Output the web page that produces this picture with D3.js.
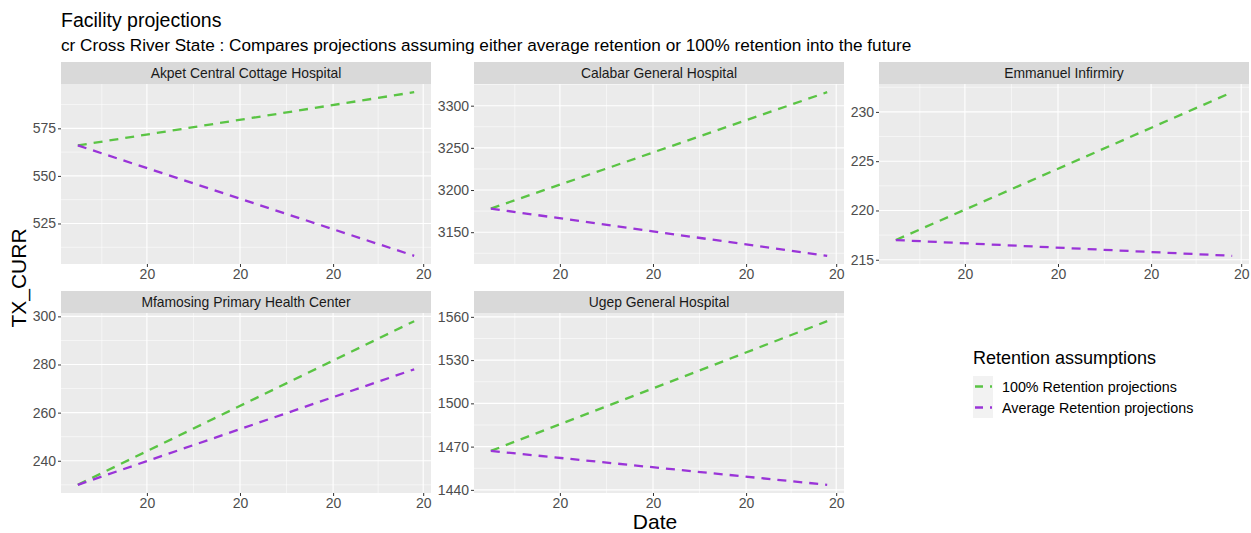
<!DOCTYPE html>
<html>
<head>
<meta charset="utf-8">
<script src="https://cdn.jsdelivr.net/npm/d3@7"></script>
<style>
  body { margin: 0; background: #fff; }
  svg { font-family: "Liberation Sans", Arial, sans-serif; }
</style>
</head>
<body>
<svg id="chart" width="1251" height="533"></svg>
<script>
// facet names (in facet_wrap order)
const facilities = [
  "Akpet Central Cottage Hospital",
  "Calabar General Hospital",
  "Emmanuel Infirmiry",
  "Mfamosing Primary Health Center",
  "Ugep General Hospital"
];

// projection start / end dates
const dates = ["2020-06-08", "2020-09-28"];

// TX_CURR at start and end, one pair per facility
const fullRetention = [[566, 594], [3178, 3316], [217, 232], [230, 298], [1467, 1557]];
const avgRetention = [[566, 508], [3178, 3122], [217, 215.4], [230, 278], [1467, 1443.5]];

// y tick labels per facet
const yTicks = [
  [525, 550, 575],
  [3150, 3200, 3250, 3300],
  [215, 220, 225, 230],
  [240, 260, 280, 300],
  [1440, 1470, 1500, 1530, 1560]
];

// x major breaks (labelled with 2-digit year)
const xTicks = ["2020-07-01", "2020-08-01", "2020-09-01", "2020-10-01"];

const seriesNames = ["100% Retention projections", "Average Retention projections"];
const seriesColors = ["#5ac444", "#9a34d8"];

const parse = d3.timeParse("%Y-%m-%d");
const svg = d3.select("#chart");

// layout
const panelW = 370, plotH = 180, stripH = 22;
const colX = [61, 474, 879];
const rowY = [62, 291];

const allDates = dates.map(parse);
const span = allDates[1] - allDates[0];
const x = d3.scaleTime()
  .domain([new Date(+allDates[0] - span * 0.05), new Date(+allDates[1] + span * 0.05)])
  .range([0, panelW]);
const xMajor = xTicks.map(parse);
const xMinor = [];
const prevMonth = d3.timeMonth.offset(xMajor[0], -1);
[prevMonth, ...xMajor].forEach((d, i, arr) => {
  if (i < arr.length - 1) xMinor.push(new Date((+d + +arr[i + 1]) / 2));
});

facilities.forEach((name, i) => {
  const col = i % 3, row = Math.floor(i / 3);
  const g = svg.append("g")
    .attr("transform", "translate(" + colX[col] + "," + rowY[row] + ")");

  // strip
  g.append("rect").attr("width", panelW).attr("height", stripH).attr("fill", "#d9d9d9");
  g.append("text")
    .attr("x", panelW / 2).attr("y", stripH / 2 + 5)
    .attr("text-anchor", "middle").attr("font-size", 13.9).attr("fill", "#1a1a1a")
    .text(name);

  const p = g.append("g").attr("transform", "translate(0," + stripH + ")");
  p.append("rect").attr("width", panelW).attr("height", plotH).attr("fill", "#ebebeb");

  const vals = fullRetention[i].concat(avgRetention[i]);
  const lo = d3.min(vals), hi = d3.max(vals), pad = (hi - lo) * 0.05;
  const y = d3.scaleLinear().domain([lo - pad, hi + pad]).range([plotH, 0]);

  const ticks = yTicks[i];
  const step = ticks[1] - ticks[0];
  const yMinor = [ticks[0] - step / 2, ...ticks.map(t => t + step / 2)]
    .filter(v => v > y.domain()[0] && v < y.domain()[1]);

  // minor grid
  p.selectAll(".ymin").data(yMinor).enter().append("line")
    .attr("x1", 0).attr("x2", panelW)
    .attr("y1", d => y(d)).attr("y2", d => y(d))
    .attr("stroke", "#fff").attr("stroke-width", 0.55);
  p.selectAll(".xmin").data(xMinor.filter(d => x(d) > 0 && x(d) < panelW)).enter().append("line")
    .attr("y1", 0).attr("y2", plotH)
    .attr("x1", d => x(d)).attr("x2", d => x(d))
    .attr("stroke", "#fff").attr("stroke-width", 0.55);
  // major grid
  p.selectAll(".ymaj").data(ticks).enter().append("line")
    .attr("x1", 0).attr("x2", panelW)
    .attr("y1", d => y(d)).attr("y2", d => y(d))
    .attr("stroke", "#fff").attr("stroke-width", 1.1);
  p.selectAll(".xmaj").data(xMajor).enter().append("line")
    .attr("y1", 0).attr("y2", plotH)
    .attr("x1", d => x(d)).attr("x2", d => x(d))
    .attr("stroke", "#fff").attr("stroke-width", 1.1);

  // axes
  const yAxis = p.append("g")
    .call(d3.axisLeft(y).tickValues(ticks).tickFormat(d3.format("d")).tickSize(3).tickPadding(2));
  const xAxis = p.append("g").attr("transform", "translate(0," + plotH + ")")
    .call(d3.axisBottom(x).tickValues(xMajor).tickFormat(d3.timeFormat("%y")).tickSize(3).tickPadding(2));
  [yAxis, xAxis].forEach(a => {
    a.select(".domain").remove();
    a.selectAll(".tick line").attr("stroke", "#333").attr("stroke-width", 1);
    a.selectAll(".tick text").attr("fill", "#4d4d4d").attr("font-size", 14)
      .attr("font-family", "Liberation Sans, Arial, sans-serif");
  });

  // lines
  const line = d3.line().x((d, k) => x(allDates[k])).y(d => y(d));
  [fullRetention[i], avgRetention[i]].forEach((s, k) => {
    p.append("path")
      .attr("d", line(s))
      .attr("fill", "none")
      .attr("stroke", seriesColors[k])
      .attr("stroke-width", 2.3)
      .attr("stroke-dasharray", "9,7");
  });
});

// titles
svg.append("text").attr("x", 61).attr("y", 27)
  .attr("font-size", 19.5).attr("fill", "#000")
  .text("Facility projections");
svg.append("text").attr("x", 61).attr("y", 51)
  .attr("font-size", 17.2).attr("fill", "#000")
  .text("cr Cross River State : Compares projections assuming either average retention or 100% retention into the future");

// axis titles
svg.append("text")
  .attr("transform", "translate(26,278) rotate(-90)")
  .attr("text-anchor", "middle").attr("font-size", 21).attr("fill", "#000")
  .text("TX_CURR");
svg.append("text")
  .attr("x", (colX[0] + colX[2] + panelW) / 2).attr("y", 529)
  .attr("text-anchor", "middle").attr("font-size", 21).attr("fill", "#000")
  .text("Date");

// legend
const leg = svg.append("g").attr("transform", "translate(973,364)");
leg.append("text").attr("font-size", 18).attr("fill", "#000").text("Retention assumptions");
seriesNames.forEach((s, k) => {
  const ky = 12 + k * 21;
  leg.append("rect").attr("x", 0).attr("y", ky).attr("width", 20).attr("height", 21)
    .attr("fill", "#f2f2f2");
  leg.append("line").attr("x1", 2).attr("x2", 19).attr("y1", ky + 10.5).attr("y2", ky + 10.5)
    .attr("stroke", seriesColors[k]).attr("stroke-width", 2.3).attr("stroke-dasharray", "8,7");
  leg.append("text").attr("x", 29).attr("y", ky + 15.5)
    .attr("font-size", 14.3).attr("fill", "#000").text(s);
});
</script>
</body>
</html>
